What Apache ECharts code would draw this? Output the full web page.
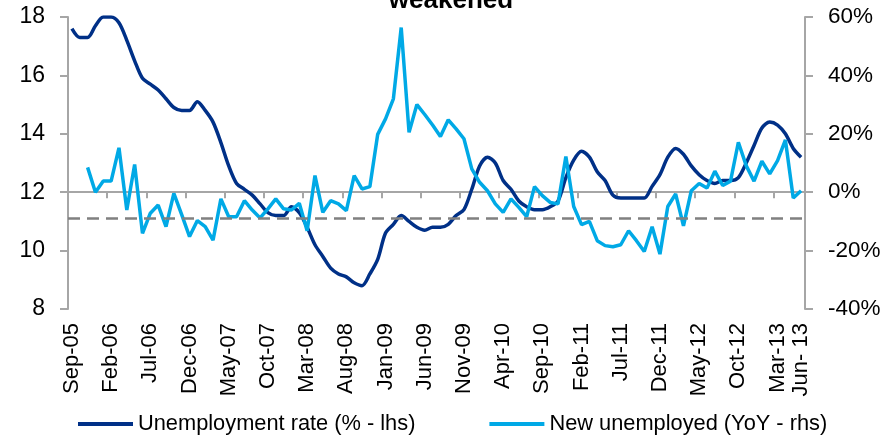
<!DOCTYPE html>
<html>
<head>
<meta charset="utf-8">
<script src="https://cdn.jsdelivr.net/npm/echarts@6/dist/echarts.min.js"></script>
<style>
html,body{margin:0;padding:0;background:#fff;}
#chart{width:895px;height:439px;}
</style>
</head>
<body>
<div id="chart"></div>
<script>
// Months Sep-05 .. Jun-13 (x categories); last label as written in the source
var categories = [
 'Sep-05','Oct-05','Nov-05','Dec-05','Jan-06','Feb-06','Mar-06','Apr-06','May-06','Jun-06','Jul-06','Aug-06',
 'Sep-06','Oct-06','Nov-06','Dec-06','Jan-07','Feb-07','Mar-07','Apr-07','May-07','Jun-07','Jul-07','Aug-07',
 'Sep-07','Oct-07','Nov-07','Dec-07','Jan-08','Feb-08','Mar-08','Apr-08','May-08','Jun-08','Jul-08','Aug-08',
 'Sep-08','Oct-08','Nov-08','Dec-08','Jan-09','Feb-09','Mar-09','Apr-09','May-09','Jun-09','Jul-09','Aug-09',
 'Sep-09','Oct-09','Nov-09','Dec-09','Jan-10','Feb-10','Mar-10','Apr-10','May-10','Jun-10','Jul-10','Aug-10',
 'Sep-10','Oct-10','Nov-10','Dec-10','Jan-11','Feb-11','Mar-11','Apr-11','May-11','Jun-11','Jul-11','Aug-11',
 'Sep-11','Oct-11','Nov-11','Dec-11','Jan-12','Feb-12','Mar-12','Apr-12','May-12','Jun-12','Jul-12','Aug-12',
 'Sep-12','Oct-12','Nov-12','Dec-12','Jan-13','Feb-13','Mar-13','Apr-13','May-13','Jun- 13'
];

// Unemployment rate (% - lhs)
var unemploymentRate = [
 17.6,17.3,17.3,17.7,18.0,18.0,17.8,17.2,16.5,15.9,15.7,15.5,
 15.2,14.9,14.8,14.8,15.1,14.8,14.4,13.7,12.9,12.3,12.1,11.9,
 11.6,11.3,11.2,11.2,11.5,11.3,10.8,10.2,9.8,9.4,9.2,9.1,
 8.9,8.8,9.2,9.7,10.6,10.9,11.2,11.0,10.8,10.7,10.8,10.8,
 10.9,11.2,11.4,12.1,12.9,13.2,13.0,12.4,12.1,11.7,11.5,11.4,
 11.4,11.5,11.7,12.5,13.1,13.4,13.2,12.7,12.4,11.9,11.8,11.8,
 11.8,11.8,12.2,12.6,13.2,13.5,13.3,12.9,12.6,12.4,12.3,12.4,
 12.4,12.5,13.0,13.6,14.2,14.4,14.3,14.0,13.5,13.2
];

// New unemployed (YoY % - rhs)
var newUnemployedYoY = [
 null,null,8.5,0.0,3.8,3.8,15.2,-6.1,9.5,-14.1,-7.2,-4.4,
 -11.8,-0.4,-7.7,-15.2,-9.7,-11.8,-16.4,-2.3,-8.4,-8.4,-2.9,-6.1,
 -8.8,-5.7,-2.3,-5.7,-6.1,-3.8,-13.2,5.7,-6.9,-2.9,-4.0,-6.3,
 5.7,1.1,1.9,19.8,25.1,32.0,56.4,20.5,30.0,26.6,23.0,19.1,
 24.8,21.7,18.3,8.0,3.4,0.5,-4.0,-6.9,-2.3,-5.2,-8.4,1.9,
 -1.2,-3.5,-4.0,12.2,-4.9,-11.1,-10.0,-16.6,-18.3,-18.7,-18.0,-13.2,
 -16.6,-20.3,-11.8,-21.2,-4.9,-0.6,-11.5,0.5,3.0,1.4,7.2,2.3,
 3.8,17.1,9.1,3.8,10.6,6.3,10.8,17.9,-2.0,0.5
];

var referenceLevel = 11.1;   // dashed horizontal line (lhs)
var titleText = 'weakened';
var seriesNames = ['Unemployment rate (% - lhs)', 'New unemployed (YoY - rhs)'];

var DARK = '#003087', LIGHT = '#00A9E6', AXIS = '#A6A6A6';
var LBL = "'Liberation Sans', Arial, sans-serif";
var lastIdx = categories.length - 1;

var chart = echarts.init(document.getElementById('chart'), null, {renderer: 'canvas'});
chart.setOption({
  animation: false,
  backgroundColor: '#ffffff',
  graphic: [{
    type: 'text', x: 451, y: 1,
    style: {text: titleText, fill: '#000', font: "bold 26px 'Liberation Sans', Arial, sans-serif",
            textAlign: 'center', textVerticalAlign: 'middle'}
  }],
  grid: {left: 68, right: 90, top: 17, bottom: 130, containLabel: false},
  legend: {
    left: 78, top: 413, padding: 0, itemGap: 74, itemWidth: 55, itemHeight: 4,
    icon: 'rect',
    textStyle: {fontFamily: LBL, fontSize: 21.8, color: '#000'},
    data: seriesNames
  },
  xAxis: {
    type: 'category', data: categories, boundaryGap: true,
    axisLine: {lineStyle: {color: AXIS, width: 2}},
    axisTick: {show: true, length: 6, alignWithLabel: false, lineStyle: {color: AXIS, width: 2},
               interval: function (i) { return i % 5 === 0; }},
    axisLabel: {rotate: 90, margin: 14, fontFamily: LBL, fontSize: 22, color: '#000',
                interval: function (i) { return i % 5 === 0 || i === lastIdx; }},
    splitLine: {show: false}
  },
  yAxis: [{
    type: 'value', position: 'left', min: 8, max: 18, interval: 2,
    axisLine: {show: true, lineStyle: {color: AXIS, width: 2}},
    axisTick: {show: true, length: 8, lineStyle: {color: AXIS, width: 2}},
    axisLabel: {margin: 23, fontFamily: LBL, fontSize: 23, color: '#000'},
    splitLine: {show: false}
  }, {
    type: 'value', position: 'right', min: -40, max: 60, interval: 20,
    axisLine: {show: true, lineStyle: {color: AXIS, width: 2}},
    axisTick: {show: true, length: 8, lineStyle: {color: AXIS, width: 2}},
    axisLabel: {margin: 23, fontFamily: LBL, fontSize: 22.5, color: '#000', formatter: '{value}%'},
    splitLine: {show: false}
  }],
  series: [{
    name: seriesNames[0], type: 'line', yAxisIndex: 0, data: unemploymentRate,
    showSymbol: false, smooth: 0.3, z: 3,
    lineStyle: {color: DARK, width: 3.5}, itemStyle: {color: DARK},
    markLine: {
      silent: true, symbol: 'none', label: {show: false},
      lineStyle: {color: '#808080', width: 2.5, type: [12, 7]},
      data: [{yAxis: referenceLevel}]
    }
  }, {
    name: seriesNames[1], type: 'line', yAxisIndex: 1, data: newUnemployedYoY,
    showSymbol: false, connectNulls: false, z: 4,
    lineStyle: {color: LIGHT, width: 3.5}, itemStyle: {color: LIGHT}
  }]
});
</script>
</body>
</html>
